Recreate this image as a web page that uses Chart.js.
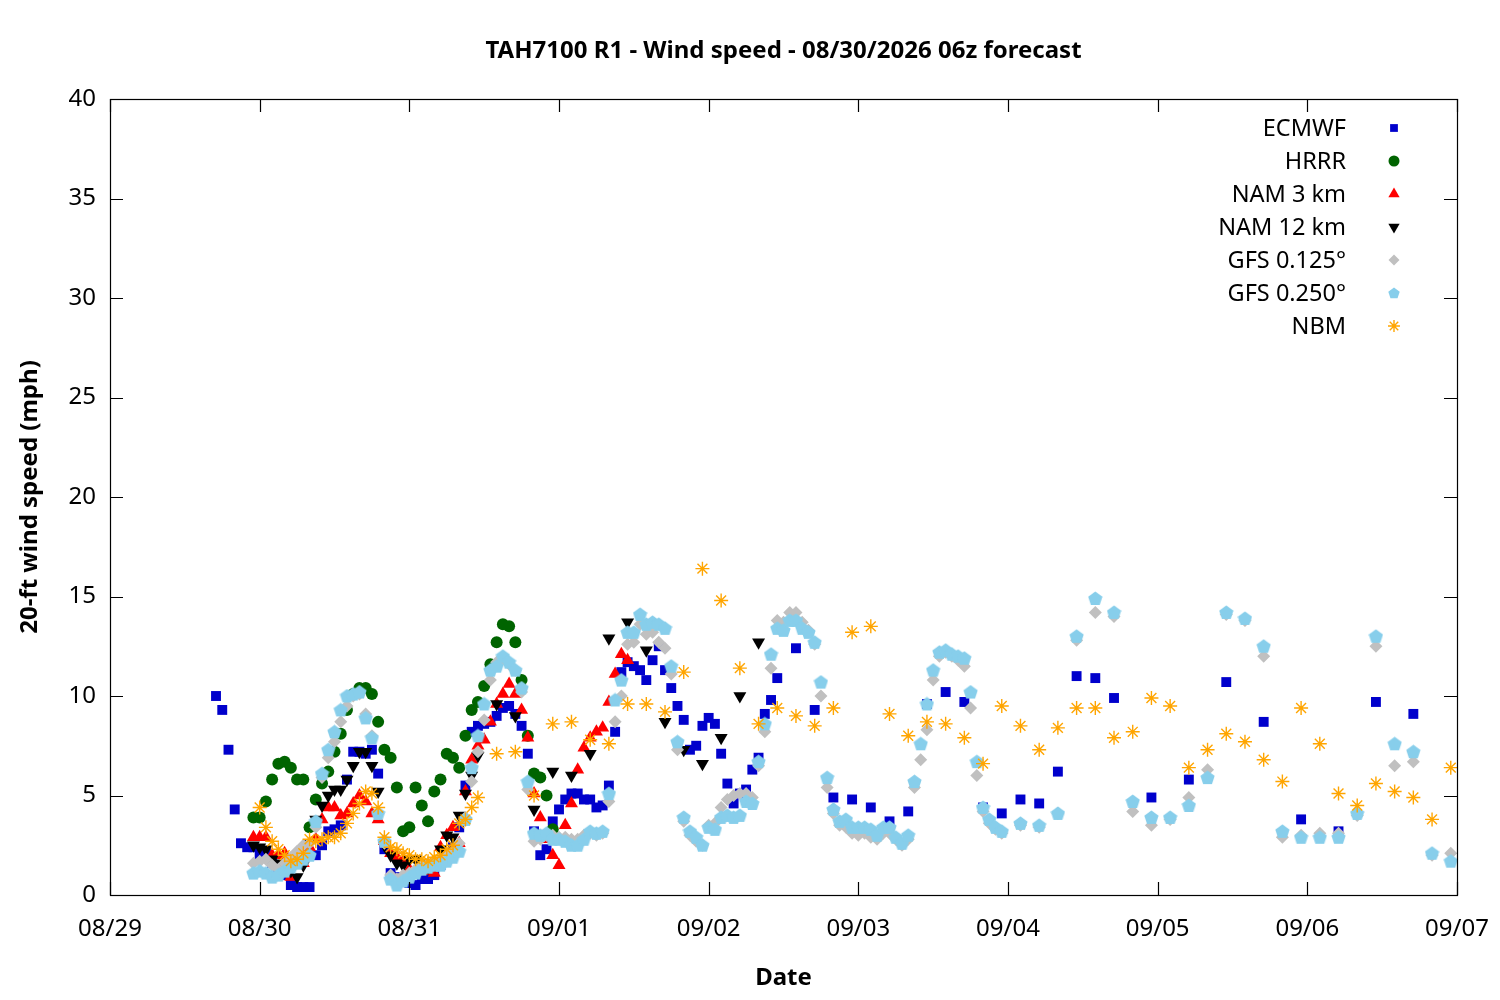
<!DOCTYPE html>
<html>
<head>
<meta charset="utf-8">
<title>TAH7100 R1 - Wind speed</title>
<script src="https://cdn.jsdelivr.net/npm/chart.js@4.4.1/dist/chart.umd.min.js"></script>
<style>
  body { margin: 0; background: #fff; }
  #wrap { width: 1500px; height: 1000px; }
</style>
</head>
<body>
<div id="wrap"><canvas id="myChart" width="1500" height="1000"></canvas></div>
<script>
// Hours are counted from 08/29 00h (local), values in mph
const dateLabels = ["08/29", "08/30", "08/31", "09/01", "09/02", "09/03", "09/04", "09/05", "09/06", "09/07"];
const yTicks = [0, 5, 10, 15, 20, 25, 30, 35, 40];

// ECMWF: hourly from h17, 3-hourly from h110, 6-hourly from h167
const ecmwfHourly = [
  10.0, 9.3, 7.3, 4.3, 2.6, 2.4, 2.4, 2.0, 2.1, 1.6,
  1.2, 1.0, 0.5, 0.4, 0.4, 0.4, 2.0, 2.5, 3.2, 3.3,
  3.5, 5.8, 7.2, 7.2, 7.1, 7.3, 6.1, 2.3, 1.1, 0.9,
  0.7, 0.6, 0.5, 0.8, 0.8, 1.0, 1.5, 2.0, 2.4, 3.4,
  5.5, 8.2, 8.5, 8.6, 8.7, 9.0, 9.4, 9.5, 9.1, 8.5,
  7.1, 3.2, 2.0, 2.3, 3.7, 4.3, 4.8, 5.1, 5.1, 4.8,
  4.8, 4.4, 4.5, 5.5, 8.2, 11.2, 11.7, 11.5, 11.3, 10.8,
  11.8, 12.5, 11.3, 10.4, 9.5, 8.8, 7.3, 7.5, 8.5, 8.9,
  8.6, 7.1, 5.6, 4.6, 5.1, 5.3, 6.3, 6.9, 9.1, 9.8, 10.9
];
const ecmwf3h = [12.4, 9.3, 4.9, 4.8, 4.4, 3.7, 4.2, 9.6, 10.2, 9.7, 4.4, 4.1, 4.8, 4.6, 6.2, 11.0, 10.9, 9.9];
const ecmwf6h = [4.9, 5.8, 10.7, 8.7, 3.8, 3.2, 9.7, 9.1];

// HRRR: hourly from h23
const hrrrHourly = [
  3.9, 3.9, 4.7, 5.8, 6.6, 6.7, 6.4, 5.8, 5.8, 3.4,
  4.8, 5.6, 6.2, 7.2, 8.1, 9.3, 10.1, 10.4, 10.4, 10.1,
  8.7, 7.3, 6.9, 5.4, 3.2, 3.4, 5.4, 4.5, 3.7, 5.2,
  5.8, 7.1, 6.9, 6.4, 8.0, 9.3, 9.7, 10.5, 11.6, 12.7,
  13.6, 13.5, 12.7, 10.8, 8.0, 6.1, 5.9, 5.0, 3.3
];

// NAM 3 km: hourly from h23
const nam3Hourly = [
  2.9, 2.9, 2.9, 2.0, 2.0, 2.1, 0.9, 1.7, 1.6, 2.4,
  2.8, 3.8, 4.4, 4.4, 4.0, 4.1, 4.6, 5.0, 4.7, 4.1,
  3.8, 2.7, 2.1, 1.9, 1.7, 1.3, 1.2, 1.4, 1.2, 1.1,
  2.4, 3.0, 3.4, 2.6, 5.2, 6.8, 7.5, 7.8, 8.7, 9.6,
  10.1, 10.6, 10.1, 9.3, 7.9, 5.1, 3.9, 2.8, 2.0, 1.5,
  3.5, 4.6, 6.3, 7.4, 7.9, 8.2, 8.4, 9.7, 11.1, 12.1, 11.8
];

// NAM 12 km: hourly from h23, 3-hourly from h62
const nam12Hourly = [
  2.5, 2.4, 2.3, 1.8, 1.6, 1.4, 1.2, 0.9, 1.5, 2.6,
  3.8, 4.5, 5.0, 5.3, 5.3, 5.8, 6.5, 7.2, 7.2, 6.5,
  5.2, 2.5, 2.0, 1.6, 1.5, 1.8, 1.8, 1.6, 1.4, 1.6,
  2.3, 3.0, 2.9, 4.0, 5.1, 6.0, 7.0
];
const nam12_3h = [9.6, 9.0, 4.3, 6.2, 6.0, 7.1, 12.9, 13.7, 12.3, 8.7, 7.3, 6.6, 7.9, 10.0, 12.7];

// GFS 0.125: hourly from h23, 3-hourly from h146
const gfs125Hourly = [
  1.6, 1.7, 1.8, 1.5, 1.3, 1.6, 1.9, 2.2, 2.5, 2.6,
  3.4, 5.9, 6.9, 7.7, 8.7, 9.5, 10.0, 10.1, 9.1, 8.0,
  4.1, 2.6, 1.0, 0.8, 1.0, 1.1, 1.3, 1.5, 1.6, 1.7,
  1.8, 2.0, 2.2, 2.6, 3.9, 5.7, 7.2, 8.8, 10.8, 11.7,
  11.9, 11.6, 11.3, 10.2, 5.3, 2.7, 2.8, 3.0, 3.0, 2.9,
  2.9, 2.8, 2.8, 3.0, 3.1, 3.0, 3.1, 4.7, 8.7, 10.0,
  12.6, 12.7, 13.6, 13.1, 13.2, 12.7, 12.4, 11.1, 7.3, 3.7,
  3.0, 2.7, 2.5, 3.5, 3.6, 4.4, 4.8, 5.0, 5.1, 5.1,
  4.9, 6.5, 8.2, 11.4, 13.8, 13.7, 14.2, 14.2, 13.7, 13.3,
  12.6, 10.0, 5.4, 4.1, 3.5, 3.4, 3.1, 3.0, 3.1, 2.9,
  2.8, 3.1, 3.1, 2.8, 2.5, 2.8, 5.4, 6.8, 8.3, 10.8,
  12.0, 12.2, 12.0, 11.8, 11.5, 9.4, 6.0, 4.2, 3.6, 3.3, 3.1
];
const gfs125_3h = [3.5, 3.4, 4.1, 12.8, 14.2, 14.0, 4.2, 3.5, 3.8, 4.9, 6.3, 14.1, 13.8, 12.0, 2.9, 3.0, 3.1, 3.1, 4.0, 12.5, 6.5, 6.7, 2.0, 2.1];

// GFS 0.250: hourly from h23, 3-hourly from h146
const gfs250Hourly = [
  1.1, 1.2, 1.1, 0.9, 1.0, 1.2, 1.4, 1.6, 1.8, 2.0,
  3.7, 6.1, 7.3, 8.2, 9.3, 10.0, 10.1, 10.2, 8.9, 7.9,
  4.1, 2.7, 0.8, 0.5, 0.7, 0.9, 1.1, 1.3, 1.4, 1.5,
  1.5, 1.7, 1.9, 2.2, 3.8, 6.4, 8.0, 9.6, 11.3, 11.5,
  12.0, 11.7, 11.3, 10.4, 5.7, 3.1, 3.0, 3.1, 2.8, 2.8,
  2.7, 2.5, 2.5, 2.8, 3.2, 3.1, 3.2, 5.1, 9.8, 10.8,
  13.2, 13.2, 14.1, 13.6, 13.7, 13.6, 13.4, 11.5, 7.7, 3.9,
  3.2, 2.9, 2.5, 3.4, 3.3, 3.9, 4.0, 3.9, 4.0, 4.7,
  4.6, 6.7, 8.6, 12.1, 13.4, 13.3, 13.8, 13.8, 13.4, 13.2,
  12.7, 10.7, 5.9, 4.3, 3.7, 3.8, 3.4, 3.4, 3.4, 3.3,
  3.0, 3.4, 3.4, 2.9, 2.6, 3.0, 5.7, 7.6, 9.6, 11.3,
  12.2, 12.3, 12.1, 12.0, 11.9, 10.2, 6.7, 4.4, 3.8, 3.4, 3.2
];
const gfs250_3h = [3.6, 3.5, 4.1, 13.0, 14.9, 14.2, 4.7, 3.9, 3.9, 4.5, 5.9, 14.2, 13.9, 12.5, 3.2, 2.9, 2.9, 2.9, 4.1, 13.0, 7.6, 7.2, 2.1, 1.7];

// NBM: hourly from h24, 3-hourly from h62
const nbmHourly = [
  4.4, 3.4, 2.7, 2.3, 2.0, 1.7, 1.8, 2.1, 2.8, 2.7,
  2.8, 2.9, 2.9, 3.1, 3.6, 4.1, 4.6, 5.2, 5.1, 4.4,
  2.9, 2.4, 2.3, 2.1, 2.0, 1.8, 1.8, 1.7, 1.9, 2.0,
  2.3, 2.5, 3.6, 3.8, 4.4, 4.9
];
const nbm3h = [
  7.1, 7.2, 5.0, 8.6, 8.7, 7.8, 7.6, 9.6, 9.6, 9.2,
  11.2, 16.4, 14.8, 11.4, 8.6, 9.4, 9.0, 8.5, 9.4, 13.2,
  13.5, 9.1, 8.0, 8.7, 8.6, 7.9, 6.6, 9.5, 8.5, 7.3,
  8.4, 9.4, 9.4, 7.9, 8.2, 9.9, 9.5, 6.4, 7.3, 8.1,
  7.7, 6.8, 5.7, 9.4, 7.6, 5.1, 4.5, 5.6, 5.2, 4.9,
  3.8, 6.4
];

function series(startHour, stepHours, values) {
  return values.map((v, i) => ({ x: startHour + i * stepHours, y: v }));
}

function pentagon(size, color) {
  const c = document.createElement("canvas");
  c.width = size;
  c.height = size;
  const g = c.getContext("2d");
  const r = size / 2;
  g.fillStyle = color;
  g.beginPath();
  for (let i = 0; i < 5; i++) {
    const a = -Math.PI / 2 + i * 2 * Math.PI / 5;
    const px = r + r * Math.cos(a);
    const py = r + 0.5 + r * Math.sin(a);
    if (i === 0) g.moveTo(px, py); else g.lineTo(px, py);
  }
  g.closePath();
  g.fill();
  return c;
}

const FONT = "'Noto Sans', 'DejaVu Sans', sans-serif";
const skyBlue = "#87ceeb";
const pentaPoint = pentagon(15, skyBlue);
const pentaLegend = pentagon(12, skyBlue);

const datasets = [
  {
    label: "ECMWF",
    data: [...series(17, 1, ecmwfHourly), ...series(110, 3, ecmwf3h), ...series(167, 6, ecmwf6h)],
    pointStyle: "rect", pointRadius: 7, backgroundColor: "#0000cc", borderWidth: 0,
    legendRadius: 5.5, order: 7
  },
  {
    label: "HRRR",
    data: series(23, 1, hrrrHourly),
    pointStyle: "circle", pointRadius: 6, backgroundColor: "#006400", borderWidth: 0,
    legendRadius: 5.5, order: 6
  },
  {
    label: "NAM 3 km",
    data: series(23, 1, nam3Hourly),
    pointStyle: "triangle", pointRadius: 7.5, backgroundColor: "#ff0000", borderWidth: 0,
    legendRadius: 6.5, order: 5
  },
  {
    label: "NAM 12 km",
    data: [...series(23, 1, nam12Hourly), ...series(62, 3, nam12_3h)],
    pointStyle: "triangle", pointRotation: 180, pointRadius: 7.5, backgroundColor: "#000000", borderWidth: 0,
    legendRadius: 6.5, order: 4
  },
  {
    label: "GFS 0.125°",
    data: [...series(23, 1, gfs125Hourly), ...series(146, 3, gfs125_3h)],
    pointStyle: "rectRot", pointRadius: 6.5, backgroundColor: "#c0c0c0", borderWidth: 0,
    legendRadius: 5.5, order: 3
  },
  {
    label: "GFS 0.250°",
    data: [...series(23, 1, gfs250Hourly), ...series(146, 3, gfs250_3h)],
    pointStyle: pentaPoint, pointRadius: 7, backgroundColor: skyBlue, borderWidth: 0,
    legendImage: pentaLegend, order: 2
  },
  {
    label: "NBM",
    data: [...series(24, 1, nbmHourly), ...series(62, 3, nbm3h)],
    pointStyle: "star", pointRadius: 7, backgroundColor: "#ffa500", borderColor: "#ffa500", borderWidth: 1.4,
    legendRadius: 6, order: 1
  }
];

// Title, box, inward ticks and legend in gnuplot style
const frame = {
  id: "frame",
  afterDraw(chart) {
    const ctx = chart.ctx;
    const a = chart.chartArea;
    const xs = chart.scales.x;
    const ys = chart.scales.y;
    ctx.save();
    ctx.fillStyle = "#000";
    ctx.font = "bold 24px " + FONT;
    ctx.textAlign = "center";
    ctx.textBaseline = "middle";
    ctx.fillText("TAH7100 R1 - Wind speed - 08/30/2026 06z forecast", (a.left + a.right) / 2, 51);

    ctx.strokeStyle = "#000";
    ctx.lineWidth = 1.2;
    ctx.strokeRect(a.left + 0.5, a.top + 0.5, a.right - a.left, a.bottom - a.top);
    const tl = 13;
    ctx.beginPath();
    yTicks.forEach(v => {
      const py = Math.round(ys.getPixelForValue(v)) + 0.5;
      ctx.moveTo(a.left, py); ctx.lineTo(a.left + tl, py);
      ctx.moveTo(a.right, py); ctx.lineTo(a.right - tl, py);
    });
    dateLabels.forEach((d, i) => {
      const px = Math.round(xs.getPixelForValue(i * 24)) + 0.5;
      ctx.moveTo(px, a.bottom); ctx.lineTo(px, a.bottom - tl);
      ctx.moveTo(px, a.top); ctx.lineTo(px, a.top + tl);
    });
    ctx.stroke();

    ctx.font = "23.5px " + FONT;
    ctx.textAlign = "right";
    chart.data.datasets.forEach((ds, i) => {
      const ly = 129 + i * 33;
      ctx.fillStyle = "#000";
      ctx.fillText(ds.label, 1346, ly);
      ctx.fillStyle = ds.backgroundColor;
      ctx.strokeStyle = ds.borderColor || ds.backgroundColor;
      ctx.lineWidth = ds.borderWidth || 1;
      Chart.helpers.drawPoint(ctx, {
        pointStyle: ds.legendImage || ds.pointStyle,
        rotation: ds.pointRotation || 0,
        radius: ds.legendRadius || 6,
        borderWidth: ds.borderWidth
      }, 1394, ly - 1);
    });
    ctx.restore();
  }
};

const config = {
  type: "scatter",
  data: { datasets: datasets },
  options: {
    responsive: false,
    animation: false,
    devicePixelRatio: 1,
    events: [],
    layout: { padding: { top: 99, right: 43, left: 0, bottom: 0 } },
    plugins: {
      legend: { display: false },
      title: { display: false },
      tooltip: { enabled: false }
    },
    scales: {
      x: {
        type: "linear",
        min: 0,
        max: 216,
        afterFit: s => {
          s.height = 105;
          s.paddingLeft = 0;
          s.paddingRight = 0;
        },
        grid: { display: false, drawTicks: false, tickLength: 0 },
        border: { display: false },
        ticks: {
          stepSize: 24,
          autoSkip: false,
          maxRotation: 0,
          padding: 20,
          color: "#000",
          font: { family: FONT, size: 24 },
          callback: v => dateLabels[v / 24]
        },
        title: {
          display: true,
          text: "Date",
          color: "#000",
          font: { family: FONT, size: 24, weight: "bold" },
          padding: { top: 0, bottom: 7 }
        }
      },
      y: {
        min: 0,
        max: 40,
        afterFit: s => {
          s.width = 110;
          s.paddingTop = 0;
          s.paddingBottom = 0;
        },
        grid: { display: false, drawTicks: false, tickLength: 0 },
        border: { display: false },
        ticks: {
          stepSize: 5,
          padding: 14,
          color: "#000",
          font: { family: FONT, size: 24 }
        },
        title: {
          display: true,
          text: "20-ft wind speed (mph)",
          color: "#000",
          font: { family: FONT, size: 24, weight: "bold" },
          padding: { top: 15.5, bottom: 0 }
        }
      }
    }
  },
  plugins: [frame]
};

const myChart = new Chart(document.getElementById("myChart"), config);
</script>
</body>
</html>
